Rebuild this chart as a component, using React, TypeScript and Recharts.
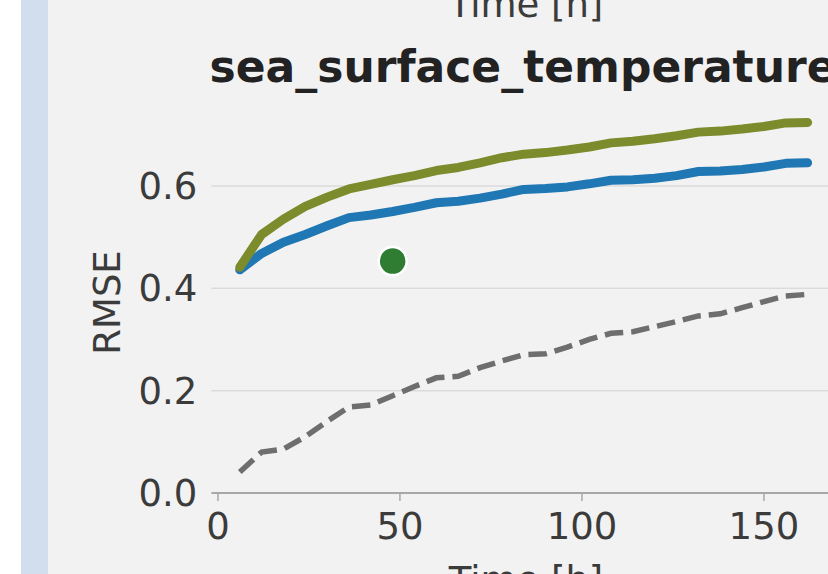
import { ComposedChart, Line, Scatter, XAxis, YAxis, CartesianGrid } from 'recharts';

// ── Data ──────────────────────────────────────────────────────────────────────

const LEAD_HOURS = [
  6, 12, 18, 24, 30, 36, 42, 48, 54, 60, 66, 72, 78, 84,
  90, 96, 102, 108, 114, 120, 126, 132, 138, 144, 150, 156, 162,
];

const OLIVE_RMSE = [
  0.441, 0.505, 0.535, 0.56, 0.578, 0.594, 0.603, 0.612, 0.62, 0.63, 0.636, 0.645, 0.655, 0.662,
  0.665, 0.67, 0.676, 0.684, 0.687, 0.692, 0.698, 0.705, 0.707, 0.711, 0.716, 0.723, 0.724,
];

const BLUE_RMSE = [
  0.436, 0.468, 0.49, 0.505, 0.522, 0.538, 0.543, 0.55, 0.558, 0.567, 0.57, 0.576, 0.584, 0.593,
  0.595, 0.598, 0.604, 0.611, 0.612, 0.615, 0.62, 0.628, 0.629, 0.632, 0.637, 0.644, 0.645,
];

const DASHED_RMSE = [
  0.041, 0.08, 0.086, 0.11, 0.14, 0.168, 0.172, 0.19, 0.208, 0.225, 0.228, 0.245, 0.258, 0.27,
  0.272, 0.285, 0.3, 0.312, 0.315, 0.325, 0.335, 0.346, 0.35, 0.362, 0.374, 0.385, 0.388,
];

const DOT_POINT = [{ t: 48, v: 0.453 }];

const X_TICKS = [0, 50, 100, 150];
const Y_TICKS = [0, 0.2, 0.4, 0.6];
const GRID_VALUES = [0.2, 0.4, 0.6];

const TITLE = 'sea_surface_temperature';
const X_LABEL = 'Time [h]';
const Y_LABEL = 'RMSE';

// ── Styling ───────────────────────────────────────────────────────────────────

const FONT = "'DejaVu Sans', sans-serif";
const TEXT = '#3b3b3b';
const AXIS = '#a8a8a8';

const rows = LEAD_HOURS.map((t, i) => ({
  t,
  olive: OLIVE_RMSE[i],
  blue: BLUE_RMSE[i],
  dashed: DASHED_RMSE[i],
}));

const Dot = (props: any) => (
  <circle cx={props.cx} cy={props.cy} r={14} fill="#2e7d32" stroke="#ffffff" strokeWidth={2.5} />
);

export default function App() {
  return (
    <div
      style={{
        position: 'absolute', left: 0, top: 0, width: 828, height: 574,
        overflow: 'hidden', background: '#ffffff', fontFamily: FONT,
      }}
    >
      <div style={{ position: 'absolute', left: 21, top: 0, width: 27, height: 574, background: '#d2deee' }} />
      <div style={{ position: 'absolute', left: 48, top: 0, width: 780, height: 574, background: '#f2f2f2' }} />

      <div style={{ position: 'absolute', left: 0, top: 0 }}>
        <ComposedChart
          width={900}
          height={574}
          data={rows}
          margin={{ top: 105, right: 64, bottom: 21, left: 0 }}
        >
          <CartesianGrid
            horizontal
            vertical={false}
            horizontalValues={GRID_VALUES}
            stroke="#dbdbdb"
            strokeWidth={1.5}
          />
          <XAxis
            dataKey="t"
            type="number"
            domain={[-1.8, 169.8]}
            ticks={X_TICKS}
            height={60}
            tickSize={8}
            tickMargin={12}
            axisLine={{ stroke: AXIS, strokeWidth: 2 }}
            tickLine={{ stroke: AXIS, strokeWidth: 1.5 }}
            tick={{ fontSize: 37, fill: TEXT, fontFamily: FONT }}
            allowDataOverflow
          />
          <YAxis
            type="number"
            domain={[0, 0.758]}
            ticks={Y_TICKS}
            width={211.4}
            tickSize={0}
            tickMargin={14}
            axisLine={false}
            tickLine={false}
            tick={{ fontSize: 37, fill: TEXT, fontFamily: FONT }}
            tickFormatter={(v: number) => v.toFixed(1)}
            allowDataOverflow
          />
          <Line
            dataKey="dashed"
            stroke="#6e6e6e"
            strokeWidth={5.5}
            strokeDasharray="18.5 8"
            dot={false}
            activeDot={false}
            isAnimationActive={false}
          />
          <Line
            dataKey="blue"
            stroke="#1f77b4"
            strokeWidth={9}
            strokeLinecap="round"
            strokeLinejoin="round"
            dot={false}
            activeDot={false}
            isAnimationActive={false}
          />
          <Line
            dataKey="olive"
            stroke="#7c8b2b"
            strokeWidth={9}
            strokeLinecap="round"
            strokeLinejoin="round"
            dot={false}
            activeDot={false}
            isAnimationActive={false}
          />
          <Scatter
            data={DOT_POINT}
            dataKey="v"
            shape={<Dot />}
            isAnimationActive={false}
          />
        </ComposedChart>
      </div>

      {/* Titles and axis labels */}
      <svg
        width={828}
        height={574}
        style={{ position: 'absolute', left: 0, top: 0, pointerEvents: 'none' }}
      >
        <text x={526} y={17} textAnchor="middle" fontSize={37} fill={TEXT} fontFamily={FONT}>
          {X_LABEL}
        </text>
        <text x={523} y={82} textAnchor="middle" fontSize={44} fontWeight="bold" fill="#222222" fontFamily={FONT}>
          {TITLE}
        </text>
        <text
          x={120}
          y={302.5}
          textAnchor="middle"
          fontSize={37}
          fill={TEXT}
          fontFamily={FONT}
          transform="rotate(-90 120 302.5)"
        >
          {Y_LABEL}
        </text>
        <text x={526} y={593} textAnchor="middle" fontSize={37} fill={TEXT} fontFamily={FONT}>
          {X_LABEL}
        </text>
      </svg>
    </div>
  );
}
